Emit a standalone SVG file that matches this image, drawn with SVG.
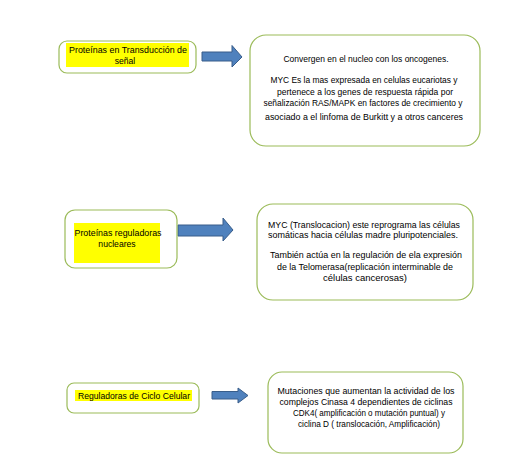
<svg xmlns="http://www.w3.org/2000/svg" width="512" height="470" viewBox="0 0 512 470">
<style>
.box{fill:#fff;stroke:#9bbb59;stroke-width:1.2}
.hl{fill:#ffff00}
.arr{fill:#4f81bd;stroke:#385d8a;stroke-width:1}
text{font-family:"Liberation Sans",Arial,sans-serif;font-size:8.6px;fill:#000;text-anchor:middle}
</style>
<rect width="512" height="470" fill="#fff"/>
<g id="connectors">
<path class="arr" d="M202,52 H232 V45.5 L242,57 L232,67 V61 H202 Z"/>
<path class="arr" d="M178,225 H223 V218 L233,230 L223,241 V236 H178 Z"/>
<path class="arr" d="M212,391.5 H238 V388 L248,395.5 L238,403 V399 H212 Z"/>
</g>
<g id="n1">
<rect class="box" x="59" y="41" width="137" height="32" rx="8"/>
<rect class="hl" x="66" y="43" width="123" height="24"/>
<text x="128" y="53" textLength="118" lengthAdjust="spacingAndGlyphs">Proteínas en Transducción de</text>
<text x="125" y="64">señal</text>
</g>
<g id="n2">
<rect class="box" x="250" y="35" width="230" height="111" rx="16"/>
<text x="366" y="62" textLength="165" lengthAdjust="spacingAndGlyphs">Convergen en el nucleo con los oncogenes.</text>
<text x="364" y="83" textLength="187" lengthAdjust="spacingAndGlyphs">MYC Es la mas expresada en celulas eucariotas y</text>
<text x="365" y="95" textLength="176" lengthAdjust="spacingAndGlyphs">pertenece a los genes de respuesta rápida por</text>
<text x="363" y="106" textLength="199" lengthAdjust="spacingAndGlyphs">señalización RAS/MAPK en factores de crecimiento y</text>
<text x="364" y="120" textLength="198" lengthAdjust="spacingAndGlyphs">asociado a el linfoma de Burkitt y a otros canceres</text>
</g>
<g id="n3">
<rect class="box" x="65" y="210" width="112" height="58" rx="10"/>
<rect class="hl" x="74" y="223" width="86" height="40"/>
<text x="118" y="236" textLength="87" lengthAdjust="spacingAndGlyphs">Proteínas reguladoras</text>
<text x="117" y="247">nucleares</text>
</g>
<g id="n4">
<rect class="box" x="257" y="204" width="216" height="96" rx="16"/>
<text x="364" y="228" textLength="192" lengthAdjust="spacingAndGlyphs">MYC (Translocacion) este reprograma las células</text>
<text x="363" y="238" textLength="190" lengthAdjust="spacingAndGlyphs">somáticas hacia células madre pluripotenciales.</text>
<text x="366" y="258" textLength="192" lengthAdjust="spacingAndGlyphs">También actúa en la regulación de ela expresión</text>
<text x="365" y="270" textLength="176" lengthAdjust="spacingAndGlyphs">de la Telomerasa(replicación interminable de</text>
<text x="365" y="281" textLength="84" lengthAdjust="spacingAndGlyphs">células cancerosas)</text>
</g>
<g id="n5">
<rect class="box" x="67" y="383" width="132" height="30" rx="7"/>
<rect class="hl" x="75" y="390" width="117" height="11"/>
<text x="134" y="398.5" textLength="112" lengthAdjust="spacingAndGlyphs">Reguladoras de Ciclo Celular</text>
</g>
<g id="n6">
<rect class="box" x="268" y="372" width="195" height="81" rx="14"/>
<text x="366" y="394" textLength="177" lengthAdjust="spacingAndGlyphs">Mutaciones que aumentan la actividad de los</text>
<text x="366" y="405" textLength="173" lengthAdjust="spacingAndGlyphs">complejos Cinasa 4 dependientes de ciclinas</text>
<text x="369" y="416" textLength="152" lengthAdjust="spacingAndGlyphs">CDK4( amplificación o mutación puntual) y</text>
<text x="369" y="427" textLength="142" lengthAdjust="spacingAndGlyphs">ciclina D ( translocación, Amplificación)</text>
</g>
</svg>
